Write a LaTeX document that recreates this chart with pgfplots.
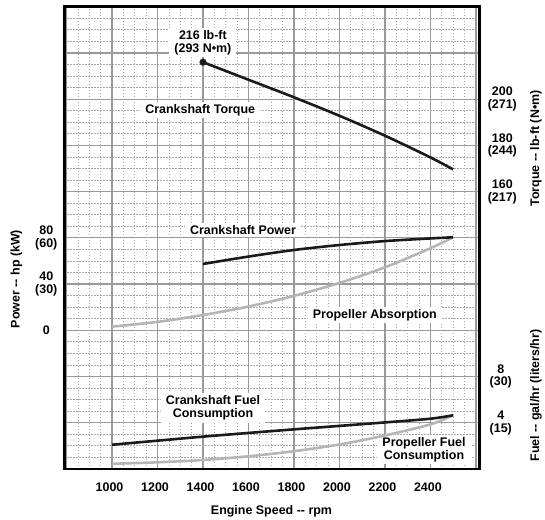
\documentclass[border=0pt]{standalone}
\usepackage{fontspec}
\setmainfont{Liberation Sans}
\usepackage{pgfplots}
\usepackage{pgfplotstable}
\pgfplotsset{compat=1.18}
\definecolor{crank}{HTML}{1A1A1A}
\definecolor{prop}{HTML}{B5B5B5}
\definecolor{gmaj}{HTML}{9A9A9A}
\definecolor{gmin}{HTML}{A8A8A8}
\newcommand{\lab}{\bfseries\fontsize{12.5}{12.8}\selectfont}

\pgfplotstableread{
rpm lbft
1400 216
1600 208.4
1800 200.8
2000 192.8
2200 184.2
2400 174.8
2500 169.6
}\torque
\pgfplotstableread{
rpm hp
1400 57.4
1600 63.8
1800 69.5
2000 73.8
2200 77.2
2400 79.5
2500 80.5
}\crankpower
\pgfplotstableread{
rpm hp
1000 3.2
1200 7.3
1400 13.2
1600 20.6
1800 29.8
2000 41.0
2200 54.5
2400 71.0
2500 80.5
}\propabs
\pgfplotstableread{
rpm gph
1000 2.1
1200 2.45
1400 2.8
1600 3.12
1800 3.43
2000 3.73
2200 4.03
2400 4.35
2500 4.65
}\crankfuel
\pgfplotstableread{
rpm gph
1000 0.45
1200 0.58
1400 0.78
1600 1.1
1800 1.54
2000 2.12
2200 2.9
2400 3.86
2500 4.65
}\propfuel

\pgfplotsset{
 base/.style={scale only axis, width=415bp, height=462.3bp, at={(64.3bp,51bp)}, anchor=south west,
   xmin=790, xmax=2615, clip=false, tick style={draw=none}, tick label style={font=\lab},
   yticklabel style={align=center, anchor=center}},
}
\tikzset{lbl/.style={fill=white, font=\lab, align=center, inner xsep=5bp, inner ysep=2.5bp}}

\begin{document}
\begin{tikzpicture}
\path[use as bounding box] (0,0) rectangle (545bp,520bp);
% fine dotted grid (quarter divisions only, not at the solid lines)
\begin{axis}[base, ymin=-120, ymax=280, axis line style={draw=none},
 xtick={850,900,950,1050,1100,1150,1250,1300,1350,1450,1500,1550,1650,1700,1750,1850,1900,1950,
        2050,2100,2150,2250,2300,2350,2450,2500,2550},
 ytick={-110,-100,-90,-70,-60,-50,-30,-20,-10,10,20,30,50,60,70,90,100,110,
        130,140,150,170,180,190,210,220,230,250,260,270},
 xticklabels={}, yticklabels={},
 grid=major, major grid style={gmin, line width=0.8bp, dash pattern=on 1.5bp off 1.5bp}]
\end{axis}
% solid grid
\begin{axis}[base, ymin=-120, ymax=280, axis line style={draw=none},
 xtick={800,1000,1200,1400,1600,1800,2000,2200,2400,2600},
 ytick={-120,-80,-40,0,40,80,120,160,200,240,280},
 xticklabels={}, yticklabels={},
 grid=major, major grid style={gmaj, line width=1.3bp}]
\end{axis}
% main axis: frame, power curves, labels
\begin{axis}[base, ymin=-120, ymax=280,
 xtick={1000,1200,1400,1600,1800,2000,2200,2400},
 xticklabels={1000,1200,1400,1600,1800,2000,2200,2400},
 ytick={0,40,80}, yticklabels={0,{40\\(30)},{80\\(60)}},
 axis line style={line width=2.7bp, black},
 xticklabel style={yshift=-10bp, xshift=-2.5bp},
 yticklabel style={xshift=-18bp},
]
\addplot[prop, line width=2.6bp, smooth] table[x=rpm,y=hp]{\propabs};
\addplot[crank, line width=2.6bp, smooth] table[x=rpm,y=hp]{\crankpower};
\node[lbl] at (rel axis cs:0.334,0.9226) {216 lb-ft\\(293 N•m)};
\node[lbl] at (rel axis cs:0.3275,0.7765) {Crankshaft Torque};
\node[lbl] at (rel axis cs:0.4306,0.517) {Crankshaft Power};
\node[lbl] at (rel axis cs:0.7482,0.3331) {Propeller Absorption};
\node[lbl] at (rel axis cs:0.3583,0.1319) {Crankshaft Fuel\\Consumption};
\node[lbl] at (rel axis cs:0.8667,0.0422) {Propeller Fuel\\Consumption};
\node[font=\lab] at (rel axis cs:0.4993,-0.0908) {Engine Speed -{}- rpm};
\node[font=\lab, rotate=90] at (rel axis cs:-0.1152,0.411) {Power -{}- hp (kW)};
\node[font=\lab, rotate=90] at (rel axis cs:1.1366,0.6933) {Torque -{}- lb-ft (N•m)};
\node[font=\lab, rotate=90] at (rel axis cs:1.1366,0.159) {Fuel -{}- gal/hr (liters/hr)};
\end{axis}
\begin{axis}[base, ymin=40, ymax=240, hide x axis, axis y line*=right, axis line style={draw=none},
 ytick={160,180,200}, yticklabels={{160\\(217)},{180\\(244)},{200\\(271)}},
 yticklabel style={xshift=23bp}]
\addplot[crank, line width=2.6bp, smooth] table[x=rpm,y=lbft]{\torque};
\addplot[crank, only marks, mark=*, mark size=3.3bp] coordinates {(1400,216)};
\end{axis}
\begin{axis}[base, ymin=0, ymax=40, hide x axis, axis y line*=right, axis line style={draw=none},
 ytick={4,8}, yticklabels={{4\\(15)},{8\\(30)}},
 yticklabel style={xshift=21.5bp}]
\addplot[prop, line width=2.6bp, smooth] table[x=rpm,y=gph]{\propfuel};
\addplot[crank, line width=2.6bp, smooth] table[x=rpm,y=gph]{\crankfuel};
\end{axis}
\end{tikzpicture}
\end{document}
